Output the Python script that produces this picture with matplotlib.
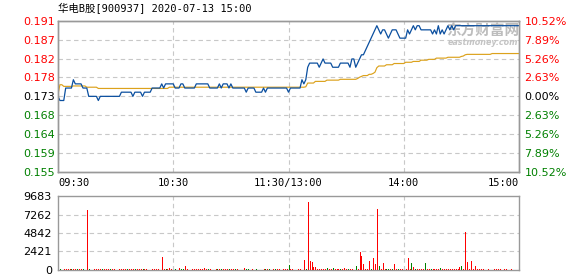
import matplotlib
matplotlib.use('Agg')
import matplotlib.pyplot as plt
import numpy as np

title = "华电B股[900937] 2020-07-13 15:00"
pre_close = 0.173

price = [
    0.173, 0.172, 0.172, 0.172, 0.175, 0.175, 0.175, 0.175, 0.177, 0.176,
    0.176, 0.176, 0.176, 0.175, 0.175, 0.175, 0.173, 0.173, 0.173, 0.173,
    0.173, 0.172, 0.173, 0.173, 0.173, 0.173, 0.173, 0.173, 0.173, 0.173,
    0.173, 0.173, 0.173, 0.174, 0.174, 0.174, 0.174, 0.174, 0.174, 0.173,
    0.174, 0.174, 0.174, 0.174, 0.173, 0.174, 0.174, 0.174, 0.174, 0.175,
    0.175, 0.175, 0.175, 0.175, 0.176, 0.175, 0.176, 0.176, 0.176, 0.176,
    0.176, 0.175, 0.175, 0.175, 0.176, 0.176, 0.175, 0.175, 0.175, 0.175,
    0.175, 0.175, 0.176, 0.176, 0.176, 0.176, 0.176, 0.176, 0.176, 0.175,
    0.175, 0.175, 0.175, 0.175, 0.176, 0.175, 0.176, 0.176, 0.176, 0.175,
    0.176, 0.175, 0.175, 0.175, 0.175, 0.175, 0.175, 0.175, 0.174, 0.175,
    0.175, 0.175, 0.175, 0.174, 0.174, 0.174, 0.174, 0.175, 0.174, 0.175,
    0.175, 0.175, 0.175, 0.175, 0.175, 0.175, 0.175, 0.175, 0.175, 0.175,
    0.174,
    0.175, 0.175, 0.175, 0.175, 0.175, 0.175, 0.177, 0.176, 0.177, 0.180,
    0.181, 0.181, 0.181, 0.181, 0.181, 0.180, 0.181, 0.182, 0.181, 0.181,
    0.181, 0.181, 0.180, 0.180, 0.180, 0.180, 0.181, 0.181, 0.181, 0.181,
    0.181, 0.180, 0.182, 0.182, 0.180, 0.181, 0.182, 0.183, 0.183, 0.184,
    0.185, 0.186, 0.187, 0.188, 0.189, 0.190, 0.189, 0.188, 0.189, 0.189,
    0.188, 0.187, 0.188, 0.189, 0.189, 0.189, 0.188, 0.187, 0.187, 0.187,
    0.187, 0.189, 0.188, 0.189, 0.190, 0.189, 0.190, 0.190, 0.189, 0.189,
    0.189, 0.189, 0.189, 0.189, 0.188, 0.189, 0.188, 0.190, 0.188, 0.189,
    0.188, 0.189, 0.190, 0.189, 0.190, 0.189, 0.190, 0.190, 0.190, 0.190,
    0.190, 0.190, 0.190, 0.190, 0.190, 0.190, 0.190, 0.190, 0.190, 0.190,
    0.190, 0.190, 0.190, 0.190, 0.190, 0.190, 0.190, 0.190, 0.190, 0.190,
    0.190, 0.190, 0.190, 0.190, 0.190, 0.190, 0.190, 0.190, 0.190, 0.190,
]

avg_price = [
    0.1735, 0.1758, 0.1758, 0.1754, 0.1754, 0.1754, 0.1754, 0.1754, 0.1755, 0.1755,
    0.1755, 0.1755, 0.1755, 0.1755, 0.1755, 0.1752, 0.1752, 0.1752, 0.1752, 0.1752,
    0.1752, 0.1749, 0.1749, 0.1749, 0.1749, 0.1749, 0.1749, 0.1749, 0.1749, 0.1749,
    0.1749, 0.1749, 0.1749, 0.1749, 0.1749, 0.1749, 0.1749, 0.1749, 0.1749, 0.1749,
    0.1749, 0.1749, 0.1749, 0.1749, 0.1749, 0.1749, 0.1749, 0.1749, 0.1749, 0.1749,
    0.1749, 0.1749, 0.1749, 0.1749, 0.1749, 0.1749, 0.1749, 0.1749, 0.1752, 0.1752,
    0.1752, 0.1752, 0.1752, 0.1752, 0.1752, 0.1752, 0.1752, 0.1752, 0.1752, 0.1752,
    0.1752, 0.1752, 0.1752, 0.1752, 0.1752, 0.1752, 0.1752, 0.1752, 0.1752, 0.1752,
    0.1752, 0.1752, 0.1752, 0.1752, 0.1752, 0.1752, 0.1752, 0.1752, 0.1752, 0.1752,
    0.1752, 0.1752, 0.1752, 0.1752, 0.1752, 0.1752, 0.1752, 0.1752, 0.1752, 0.1752,
    0.1752, 0.1752, 0.1752, 0.1752, 0.1752, 0.1752, 0.1752, 0.1752, 0.1752, 0.1752,
    0.1752, 0.1752, 0.1752, 0.1752, 0.1752, 0.1752, 0.1752, 0.1752, 0.1752, 0.1752,
    0.1752,
    0.1752, 0.1752, 0.1752, 0.1752, 0.1752, 0.1752, 0.1752, 0.1752, 0.1753, 0.1762,
    0.1762, 0.1762, 0.1762, 0.1766, 0.1766, 0.1766, 0.1766, 0.1766, 0.1766, 0.1769,
    0.1769, 0.1769, 0.1769, 0.1769, 0.1769, 0.1769, 0.1771, 0.1771, 0.1771, 0.1771,
    0.1771, 0.1771, 0.1771, 0.1771, 0.1771, 0.1773, 0.1776, 0.1778, 0.1780, 0.1780,
    0.1780, 0.1783, 0.1783, 0.1785, 0.1788, 0.1799, 0.1803, 0.1803, 0.1803, 0.1803,
    0.1806, 0.1806, 0.1806, 0.1806, 0.1809, 0.1809, 0.1809, 0.1809, 0.1809, 0.1809,
    0.1812, 0.1812, 0.1812, 0.1812, 0.1814, 0.1814, 0.1814, 0.1814, 0.1817, 0.1817,
    0.1817, 0.1817, 0.1819, 0.1819, 0.1819, 0.1819, 0.1822, 0.1822, 0.1822, 0.1822,
    0.1822, 0.1822, 0.1824, 0.1824, 0.1824, 0.1824, 0.1824, 0.1824, 0.1824, 0.1826,
    0.1827, 0.1830, 0.1831, 0.1831, 0.1831, 0.1831, 0.1831, 0.1831, 0.1831, 0.1831,
    0.1831, 0.1831, 0.1831, 0.1831, 0.1831, 0.1833, 0.1833, 0.1833, 0.1833, 0.1833,
    0.1833, 0.1833, 0.1833, 0.1833, 0.1833, 0.1833, 0.1833, 0.1833, 0.1833, 0.1833,
]

volume = [
    0, 100, 0, 130, 130, 130, 130, 130, 130, 130,
    130, 130, 130, 130, 0, 7900, 130, 0, 0, 130,
    130, 130, 130, 130, 130, 130, 130, 130, 130, 130,
    0, 0, 130, 130, 130, 130, 130, 130, 130, 130,
    130, 130, 130, 130, 130, 130, 130, 0, 0, 130,
    130, 130, 130, 0, 1750, 130, 130, 130, 300, 130,
    0, 130, 0, 260, 130, 130, 570, 130, 0, 0,
    130, 130, 130, 130, 130, 130, 260, 130, 130, 130,
    0, 0, 130, 130, 130, 130, 130, 130, 130, 130,
    130, 130, 130, 130, 0, 0, 0, 260, 130, 130,
    0, 130, 0, 130, 0, 0, 0, 130, 130, 130,
    130, 0, 130, 130, 130, 130, 0, 130, 130, 130,
    700, 130, 130, 0, 0, 130, 130, 0, 1310, 130,
    8950, 1180, 1050, 440, 440, 130, 130, 130, 130, 130,
    300, 130, 130, 200, 130, 130, 170, 130, 130, 220,
    130, 130, 130, 130, 0, 520, 130, 2400, 1880, 790,
    130, 130, 1180, 130, 1570, 790, 7990, 520, 130, 920,
    130, 130, 130, 130, 130, 790, 130, 130, 130, 130,
    0, 130, 1570, 130, 920, 440, 130, 130, 130, 130,
    130, 920, 130, 130, 130, 130, 130, 130, 130, 260,
    130, 130, 130, 130, 130, 130, 130, 130, 130, 440,
    520, 130, 4980, 1050, 130, 1180, 130, 520, 130, 130,
    130, 130, 0, 0, 130, 0, 0, 130, 130, 130,
    130, 0, 130, 130, 0, 0, 130, 0, 0, 0,
    130,
]

vol_side = ("rgrrrrrgrr" "grrgrrgrrr" "rrrgrrrgrr" "rrrrrrgrrr" "grrrgrrrrr"
            "rrrrrrgrrr" "rgrrggrrrr" "rrrrrrrrgr" "rrrgrgrrrg" "rrgrrrrrgg"
            "rrrgrrrrgr" "grrgrrrrrr" "grrrrrrrrg" "rrrrrrrrrr" "grrgrrrgrr"
            "rgrrrgrrrr" "rrrgrrrgrr" "rggrgrrgrr" "rrrrgrgrrr" "rgrrgrrrrg"
            "rrrrrrrrrr" "grrrrrrrrr" "rrrrrrrrrr" "rrrrrrrrrr" "r")

pct_steps = [-0.1052, -0.0789, -0.0526, -0.0263, 0.0, 0.0263, 0.0526, 0.0789, 0.1052]
price_labels = ["0.155", "0.159", "0.164", "0.168", "0.173", "0.178", "0.182", "0.187", "0.191"]
pct_labels = ["10.52%", "7.89%", "5.26%", "2.63%", "0.00%", "2.63%", "5.26%", "7.89%", "10.52%"]
vol_ticks = [0, 2421, 4842, 7262, 9683]
time_labels = ["09:30", "10:30", "11:30/13:00", "14:00", "15:00"]
time_minutes = [0, 60, 120, 180, 240]

RED = '#ff0000'
GREEN = '#008000'
BLACK = '#000000'
GRID = '#c8c8c8'
FRAME = '#999999'

W, H = 578, 276
fig = plt.figure(figsize=(W / 100, H / 100), dpi=100)
fig.patch.set_facecolor('white')

L, R = 58, 519
ax = fig.add_axes([L / W, 1 - 172 / H, (R - L) / W, 151.3 / H])
axv = fig.add_axes([L / W, 1 - 270 / H, (R - L) / W, 74 / H])

x = np.arange(len(price))
yticks = [pre_close * (1 + s) for s in pct_steps]

# price panel
ax.set_xlim(0, 240)
ax.set_ylim(yticks[0], yticks[-1])
for yv in yticks[1:-1]:
    ax.axhline(yv, color=GRID, lw=0.8, ls=(0, (4, 3)), zorder=1)
for xv in time_minutes[1:-1]:
    ax.axvline(xv, color=GRID, lw=0.8, ls=(0, (4, 3)), zorder=1)

ax.text(0.922, 0.935, "东方财富网", transform=ax.transAxes, ha='center', va='center',
        fontsize=10.5, fontweight='bold', color='#bdbdbd', family=['Noto Sans CJK SC'], zorder=2)
ax.text(0.922, 0.858, "eastmoney.com", transform=ax.transAxes, ha='center', va='center',
        fontsize=5.8, fontweight='bold', style='italic', color='#c4c4c4', family=['DejaVu Sans'], zorder=2)

ax.plot(x, avg_price, color='#dca21c', lw=0.85, zorder=3)
ax.plot(x, price, color='#0b4f9f', lw=0.9, zorder=4)

ax.set_yticks(yticks)
ax.set_yticklabels(price_labels)
for lbl, s in zip(ax.get_yticklabels(), pct_steps):
    lbl.set_color(RED if s > 0 else (GREEN if s < 0 else BLACK))
    lbl.set_fontsize(8)
    lbl.set_family('DejaVu Sans')
ax.tick_params(axis='y', length=0, pad=2)

ax.set_xticks(time_minutes)
ax.set_xticklabels(time_labels)
for i, lbl in enumerate(ax.get_xticklabels()):
    lbl.set_family('DejaVu Sans Mono')
    lbl.set_fontsize(7.5)
    lbl.set_ha('left' if i == 0 else ('right' if i == len(time_labels) - 1 else 'center'))
ax.tick_params(axis='x', length=0, pad=4)

axr = ax.twinx()
axr.set_ylim(ax.get_ylim())
axr.set_yticks(yticks)
axr.set_yticklabels(pct_labels)
for lbl, s in zip(axr.get_yticklabels(), pct_steps):
    lbl.set_color(RED if s > 0 else (GREEN if s < 0 else BLACK))
    lbl.set_fontsize(8)
    lbl.set_family('DejaVu Sans')
axr.tick_params(axis='y', length=0, pad=4)

for a in (ax, axr):
    for sp in a.spines.values():
        sp.set_color(FRAME)
        sp.set_linewidth(1.0)

# volume panel
axv.set_xlim(0, 240)
axv.set_ylim(0, vol_ticks[-1])
for yv in vol_ticks[1:-1]:
    axv.axhline(yv, color=GRID, lw=0.8, ls=(0, (4, 3)), zorder=1)
for xv in time_minutes[1:-1]:
    axv.axvline(xv, color=GRID, lw=0.8, ls=(0, (4, 3)), zorder=1)
colors = [RED if c == 'r' else GREEN for c in vol_side]
axv.vlines(x, 0, volume, colors=colors, lw=0.72, zorder=3, antialiased=False)
axv.set_yticks(vol_ticks)
axv.set_yticklabels([str(v) for v in vol_ticks])
for lbl in axv.get_yticklabels():
    lbl.set_fontsize(8)
    lbl.set_family('DejaVu Sans')
    lbl.set_color(BLACK)
axv.tick_params(axis='y', length=0, pad=4.5)
axv.set_xticks([])
for sp in axv.spines.values():
    sp.set_color(FRAME)
    sp.set_linewidth(1.0)

fig.text(L / W, 1 - 8.5 / H, title, ha='left', va='center', fontsize=7.5,
         family=['DejaVu Sans Mono', 'Noto Sans CJK SC'], color=BLACK)

fig.savefig('out.png', dpi=100, facecolor='white')
